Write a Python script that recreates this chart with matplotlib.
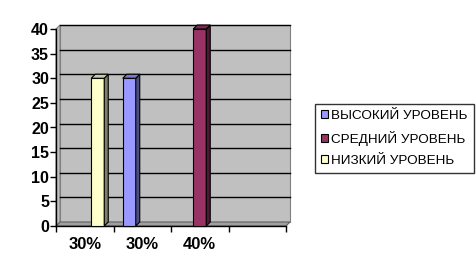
import numpy as np
import matplotlib
matplotlib.use('Agg')
import matplotlib.pyplot as plt
from matplotlib.patches import Polygon, Patch

plt.rcParams['font.family'] = ['Liberation Sans', 'DejaVu Sans']

categories = ['30%', '30%', '40%', '']
series = ['ВЫСОКИЙ УРОВЕНЬ', 'СРЕДНИЙ УРОВЕНЬ', 'НИЗКИЙ УРОВЕНЬ']
high = [0, 30, 0, 0]
mid = [0, 0, 40, 0]
low = [30, 0, 0, 0]
yticks = [0, 5, 10, 15, 20, 25, 30, 35, 40]

front = ['#9999FF', '#993366', '#FFFFCC']
side = ['#4D4D80', '#4D1A33', '#808066']
top = ['#7A7ACC', '#7A2952', '#CCCCA3']

W, H = 477, 275
DX, DY = 4, 4  # depth offset in pixels

fig = plt.figure(figsize=(W / 100, H / 100), dpi=100)
ax = fig.add_axes([56 / W, (H - 226) / H, (286 - 56) / W, (226 - 29) / H])
ax.set_xlim(0, len(categories))
ax.set_ylim(0, 40)
ax.patch.set_visible(False)


def pt(x, y, back=False):
    px, py = ax.transData.transform((x, y))
    if back:
        px, py = px + DX, py + DY
    return (px, py)


def poly(points, fc, ec='black', lw=0.8, z=1):
    p = Polygon(points, closed=True, facecolor=fc, edgecolor=ec, linewidth=lw,
                transform=None, clip_on=False, zorder=z)
    fig.add_artist(p)


nx = len(categories)
# back wall
poly([pt(0, 0, True), pt(nx, 0, True), pt(nx, 40, True), pt(0, 40, True)],
     '#C0C0C0', ec='#808080', z=0)
# left wall
poly([pt(0, 0), pt(0, 40), pt(0, 40, True), pt(0, 0, True)], '#C0C0C0', ec='#808080', z=0)
# floor
poly([pt(0, 0), pt(nx, 0), pt(nx, 0, True), pt(0, 0, True)], '#A0A0A0', ec='#606060', z=0)
# gridlines on back wall
for v in yticks[1:]:
    a, b = pt(0, v, True), pt(nx, v, True)
    fig.add_artist(plt.Line2D([a[0], b[0]], [a[1], b[1]], color='black', lw=1,
                              transform=None, zorder=0.5))

bw = 0.226
x = np.arange(nx) + 0.5
for i, vals in enumerate([high, mid, low]):
    for j, v in enumerate(vals):
        if v == 0:
            continue
        x0 = x[j] + (i - 1.5) * bw
        x1 = x0 + bw
        poly([pt(x0, 0), pt(x1, 0), pt(x1, v), pt(x0, v)], front[i], z=2)
        poly([pt(x1, 0), pt(x1, 0, True), pt(x1, v, True), pt(x1, v)], side[i], z=2)
        poly([pt(x0, v), pt(x1, v), pt(x1, v, True), pt(x0, v, True)], top[i], z=2)

for s in ['top', 'right']:
    ax.spines[s].set_visible(False)
for s in ['left', 'bottom']:
    ax.spines[s].set_linewidth(1)
ax.set_yticks(yticks)
ax.set_xticks(np.arange(nx + 1))
ax.set_xticklabels([])
ax.set_xticks(x, categories, minor=True)
ax.tick_params(axis='x', which='major', direction='out', length=4, width=1)
ax.tick_params(axis='x', which='minor', length=0, pad=8, labelsize=12)
ax.tick_params(axis='y', direction='out', length=4, width=1, labelsize=11.5, pad=1)
for lab in ax.get_xticklabels(minor=True) + ax.get_yticklabels():
    lab.set_fontweight('bold')

handles = [Patch(facecolor=c, edgecolor='black', linewidth=0.8) for c in front]
leg = fig.legend(handles, series, loc='upper left', bbox_to_anchor=(315 / W, 1 - 104 / H),
                 frameon=True, fancybox=False, edgecolor='black', fontsize=9.7,
                 handlelength=0.5, handleheight=0.5, handletextpad=0.25,
                 labelspacing=0.65, borderpad=0.45, borderaxespad=0)
leg.get_frame().set_linewidth(1)

fig.savefig('out.png', dpi=100)
